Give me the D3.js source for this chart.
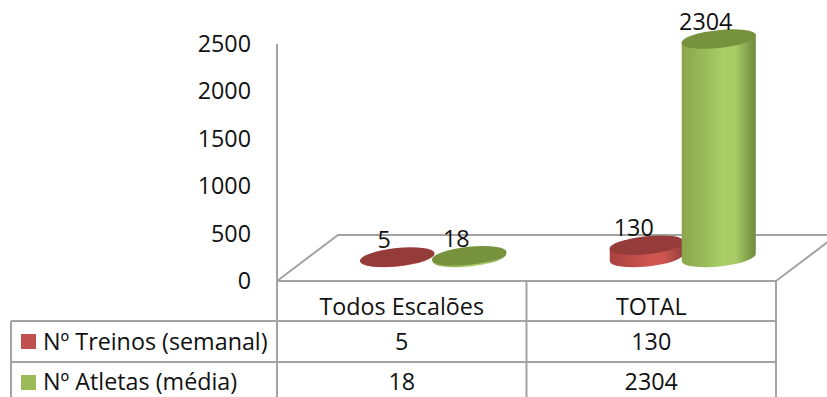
<!DOCTYPE html>
<html>
<head>
<meta charset="utf-8">
<script src="https://cdn.jsdelivr.net/npm/d3@7"></script>
<style>
  html, body { margin: 0; padding: 0; background: #fff; overflow: hidden; }
  text { font-family: "Open Sans", sans-serif; font-size: 23.3px; fill: #111; }
  .grid { stroke: #a3a3a3; stroke-width: 2; fill: none; }
</style>
</head>
<body>
<svg id="chart" width="827" height="397"></svg>
<script>
// Dados
const categories = ['Todos Escalões', 'TOTAL'];
const seriesNames = ['Nº Treinos (semanal)', 'Nº Atletas (média)'];
const treinos = [5, 130];
const atletas = [18, 2304];
const yTicks = [0, 500, 1000, 1500, 2000, 2500];

const seriesColors = [
  { top: '#953b39', mid: '#cf5551', left: '#a8423f', right: '#93403d', key: '#c0504d' },
  { top: '#76923c', mid: '#a9cc66', left: '#8aa64c', right: '#6f8a3f', key: '#9bbb59' }
];

const svg = d3.select('#chart');

// Layout do gráfico 3D
const plot = { left: 277, right: 776, top: 44, bottom: 281 };
const depth = { dx: 61, dy: 46 };       // deslocamento do chão
const baseDy = 23.5;                    // centro da base sobre o chão
const rx = 37, ry = 9, tilt = -6;
const tableRows = [321, 362, 397];
const tableLeft = 11;
const rowBaselines = [350, 390];
const swatchTops = [334, 375];

const y = d3.scaleLinear().domain([0, 2500]).range([plot.bottom, plot.top]);
const x = d3.scaleBand().domain(categories).range([plot.left, plot.right]);
const xSeries = d3.scaleBand().domain([0, 1]).range([-71, 73]);

// Gradientes dos cilindros
const defs = svg.append('defs');
seriesColors.forEach((c, i) => {
  const g = defs.append('linearGradient').attr('id', 'side' + i);
  g.append('stop').attr('offset', '0%').attr('stop-color', c.left);
  g.append('stop').attr('offset', '55%').attr('stop-color', c.mid);
  g.append('stop').attr('offset', '72%').attr('stop-color', c.mid);
  g.append('stop').attr('offset', '100%').attr('stop-color', c.right);
});

// Chão e parede
const floor = svg.append('g').attr('class', 'grid');
floor.append('path').attr('d', d3.line()([
  [plot.left, plot.bottom],
  [plot.left + depth.dx, plot.bottom - depth.dy],
  [827, plot.bottom - depth.dy]
]));
floor.append('path').attr('d', d3.line()([
  [plot.right, plot.bottom],
  [plot.right + depth.dx, plot.bottom - depth.dy]
]));
floor.append('line')
  .attr('x1', plot.left).attr('x2', plot.left)
  .attr('y1', plot.top).attr('y2', plot.bottom);

// Eixo Y
const yAxis = svg.append('g')
  .attr('transform', `translate(${plot.left - 26},0)`)
  .call(d3.axisLeft(y).tickValues(yTicks).tickFormat(d3.format('d')).tickSize(0).tickPadding(0));
yAxis.select('.domain').remove();
yAxis.attr('font-size', null).attr('font-family', null);

// Cilindros
const bars = [];
categories.forEach((c, ci) => {
  [treinos, atletas].forEach((vals, si) => {
    bars.push({ cat: c, series: si, value: vals[ci] });
  });
});

const tiltRad = tilt * Math.PI / 180;
const off = rx * Math.sin(-tiltRad);

const barG = svg.append('g').selectAll('g').data(bars).join('g');
barG.each(function(d) {
  const g = d3.select(this);
  const cx = x(d.cat) + x.bandwidth() / 2 + depth.dx / 2 + xSeries(d.series) + xSeries.bandwidth() / 2;
  const yb = y(0) - baseDy;
  const yt = y(d.value) - baseDy;
  const c = seriesColors[d.series];
  g.append('path')
    .attr('d', `M${cx - rx},${yt + off}L${cx - rx},${yb + off}` +
      `A${rx},${ry} ${tilt} 0 0 ${cx + rx},${yb - off}L${cx + rx},${yt - off}Z`)
    .attr('fill', `url(#side${d.series})`);
  g.append('ellipse')
    .attr('cx', cx).attr('cy', yt)
    .attr('rx', rx + 0.5).attr('ry', ry)
    .attr('transform', `rotate(${tilt} ${cx} ${yt})`)
    .attr('fill', c.top);
  g.append('text')
    .attr('x', cx - 13).attr('y', yt - 9)
    .attr('text-anchor', 'middle')
    .text(d.value);
});

// Tabela de dados
const grid = svg.append('g').attr('class', 'grid');
[plot.left, x(categories[1]), plot.right].forEach(px => {
  grid.append('line').attr('x1', px).attr('x2', px)
    .attr('y1', plot.bottom).attr('y2', tableRows[2]);
});
grid.append('line').attr('x1', plot.left).attr('x2', plot.right)
  .attr('y1', plot.bottom).attr('y2', plot.bottom);
tableRows.slice(0, 2).forEach(py => {
  grid.append('line').attr('x1', tableLeft).attr('x2', plot.right)
    .attr('y1', py).attr('y2', py);
});
grid.append('line').attr('x1', tableLeft).attr('x2', tableLeft)
  .attr('y1', tableRows[0]).attr('y2', tableRows[2]);

categories.forEach((c, ci) => {
  const cx = x(c) + x.bandwidth() / 2;
  svg.append('text').attr('x', cx).attr('y', 315).attr('text-anchor', 'middle').text(c);
  svg.append('text').attr('x', cx).attr('y', rowBaselines[0]).attr('text-anchor', 'middle').text(treinos[ci]);
  svg.append('text').attr('x', cx).attr('y', rowBaselines[1]).attr('text-anchor', 'middle').text(atletas[ci]);
});

// Legenda na tabela
seriesNames.forEach((name, i) => {
  svg.append('rect')
    .attr('x', 21).attr('y', swatchTops[i]).attr('width', 15).attr('height', 15)
    .attr('fill', seriesColors[i].key);
  svg.append('text').attr('x', 43).attr('y', rowBaselines[i]).text(name);
});
</script>
</body>
</html>
